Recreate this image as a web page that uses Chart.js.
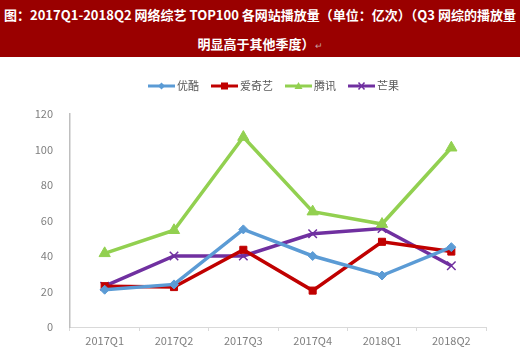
<!DOCTYPE html>
<html>
<head>
<meta charset="utf-8">
<script src="https://cdn.jsdelivr.net/npm/chart.js@4/dist/chart.umd.min.js"></script>
<style>
  body { margin: 0; width: 520px; height: 352px; background: #fff; overflow: hidden; font-family: "Noto Sans CJK SC", sans-serif; }
  #banner { background: #9a0000; color: #fff; height: 57px; font-weight: bold; font-size: 13px; text-align: center; line-height: 29px; }
  #banner .ret { color: #c8a0a0; font-weight: normal; font-size: 9px; }
  #wrap { position: relative; width: 520px; height: 295px; }
</style>
</head>
<body>
<div id="banner">图：2017Q1-2018Q2 网络综艺 TOP100 各网站播放量（单位：亿次）（Q3 网综的播放量<br>明显高于其他季度）<span class="ret">↵</span></div>
<div id="wrap"><canvas id="chart" width="520" height="295"></canvas></div>
<script>
const quarters = ['2017Q1', '2017Q2', '2017Q3', '2017Q4', '2018Q1', '2018Q2'];
const youku = [21, 24, 55, 40, 29, 45];
const iqiyi = [23, 22.5, 43.5, 20.5, 48, 42.5];
const tencent = [41.5, 54.5, 107, 65, 58, 101];
const mango = [23, 40, 40, 52.5, 55.5, 34.5];
const yTicks = [0, 20, 40, 60, 80, 100, 120];

const series = [
  { label: '优酷', data: youku, color: '#5b9bd5', style: 'rectRot', r: 4.5 },
  { label: '爱奇艺', data: iqiyi, color: '#c00000', style: 'rect', r: 5 },
  { label: '腾讯', data: tencent, color: '#92d050', style: 'triangle', r: 6.5 },
  { label: '芒果', data: mango, color: '#7030a0', style: 'crossRot', r: 6 }
];

// line + marker legend like the office chart
const lineLegend = {
  id: 'lineLegend',
  afterDraw(chart) {
    const ctx = chart.ctx;
    const y = 29;
    let x = 148;
    ctx.save();
    ctx.font = '11px "Noto Sans CJK SC"';
    ctx.textBaseline = 'middle';
    series.forEach(s => {
      ctx.strokeStyle = s.color;
      ctx.fillStyle = s.color;
      ctx.lineWidth = 3;
      ctx.beginPath(); ctx.moveTo(x, y); ctx.lineTo(x + 27, y); ctx.stroke();
      const cx = x + 13.5;
      ctx.lineWidth = 1.5;
      if (s.style === 'rectRot') {
        ctx.beginPath(); ctx.moveTo(cx, y - 3.5); ctx.lineTo(cx + 3.5, y); ctx.lineTo(cx, y + 3.5); ctx.lineTo(cx - 3.5, y); ctx.closePath(); ctx.fill();
      } else if (s.style === 'rect') {
        ctx.fillRect(cx - 3.5, y - 3.5, 7, 7);
      } else if (s.style === 'triangle') {
        ctx.beginPath(); ctx.moveTo(cx, y - 4); ctx.lineTo(cx + 4, y + 3); ctx.lineTo(cx - 4, y + 3); ctx.closePath(); ctx.fill();
      } else {
        ctx.beginPath(); ctx.moveTo(cx - 3, y - 3.5); ctx.lineTo(cx + 3, y + 3.5); ctx.moveTo(cx + 3, y - 3.5); ctx.lineTo(cx - 3, y + 3.5); ctx.stroke();
      }
      ctx.fillStyle = '#595959';
      ctx.fillText(s.label, x + 29, y);
      x += 29 + ctx.measureText(s.label).width + 12;
    });
    ctx.restore();
  }
};

new Chart(document.getElementById('chart'), {
  type: 'line',
  data: {
    labels: quarters,
    datasets: series.map(s => ({
      label: s.label,
      data: s.data,
      borderColor: s.color,
      backgroundColor: s.color,
      borderWidth: 3.5,
      pointStyle: s.style,
      pointRadius: s.r,
      pointBorderWidth: s.style === 'crossRot' ? 1.5 : 1,
      tension: 0
    }))
  },
  options: {
    responsive: false,
    animation: false,
    layout: { padding: { top: 57, right: 34, left: 0, bottom: 0 } },
    plugins: {
      tooltip: { enabled: false },
      legend: { display: false }
    },
    scales: {
      x: {
        offset: true,
        grid: { display: true, offset: true, drawOnChartArea: false, drawTicks: true, tickLength: 4, color: '#d9d9d9' },
        border: { color: '#d9d9d9', width: 1 },
        ticks: { color: '#7f7f7f', font: { family: '"Noto Sans CJK SC"', size: 11 }, padding: 3, maxRotation: 0 },
        afterFit: scale => { scale.height = 25; }
      },
      y: {
        min: 0, max: 120,
        afterBuildTicks: scale => { scale.ticks = yTicks.map(v => ({ value: v })); },
        grid: { display: false },
        border: { color: '#bfbfbf', width: 1.5 },
        ticks: { color: '#7f7f7f', font: { family: '"Noto Sans CJK SC"', size: 11 }, padding: 9 },
        afterFit: scale => { scale.width = 70; }
      }
    }
  },
  plugins: [lineLegend]
});
</script>
</body>
</html>
